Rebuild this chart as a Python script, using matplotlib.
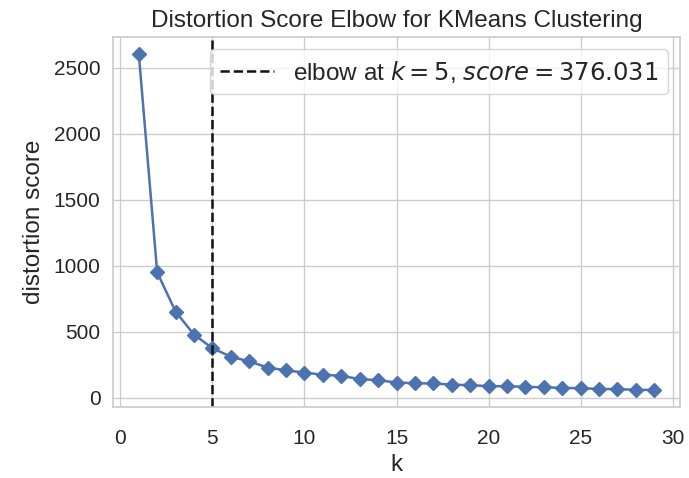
import numpy as np
import matplotlib
matplotlib.use("Agg")
import matplotlib.pyplot as plt
import seaborn as sns

# KMeans elbow scores for k = 1..29
k_values = list(range(1, 30))
distortion = [2606, 950, 653, 479, 376.031, 312, 276, 230, 208, 192,
              175, 167, 142, 134, 116, 111, 109, 101, 96, 89,
              88, 84, 80, 76, 73, 68, 66, 61, 60]
elbow_k = 5
elbow_score = 376.031

sns.set_theme(style="whitegrid")
plt.rcParams['font.family'] = ['Liberation Sans', 'DejaVu Sans']
plt.rcParams['mathtext.fontset'] = 'dejavusans'

fig = plt.figure(figsize=(6.89, 4.78), dpi=100)
ax = fig.add_axes([0.164, 0.149, 0.823, 0.774])
ax.plot(k_values, distortion, marker="D", color="#4C72B0", markersize=7, linewidth=1.8)
ax.axvline(elbow_k, color="#111111", linestyle="--", linewidth=1.8,
           label=f"elbow at $k={elbow_k}$, $score={elbow_score:.3f}$")

ax.set_title("Distortion Score Elbow for KMeans Clustering", fontsize=17.5, pad=7)
ax.set_xlabel("k", fontsize=17.5, labelpad=4)
ax.set_ylabel("distortion score", fontsize=17.5, labelpad=6)
ax.tick_params(axis="both", labelsize=15)
ax.tick_params(axis="x", pad=10)
ax.tick_params(axis="y", pad=3)
ax.legend(loc="upper right", frameon=True, fontsize=17.5, borderaxespad=0.5,
          handlelength=2.2)
for s in ax.spines.values():
    s.set_color("#cccccc")

plt.savefig("out.png")
